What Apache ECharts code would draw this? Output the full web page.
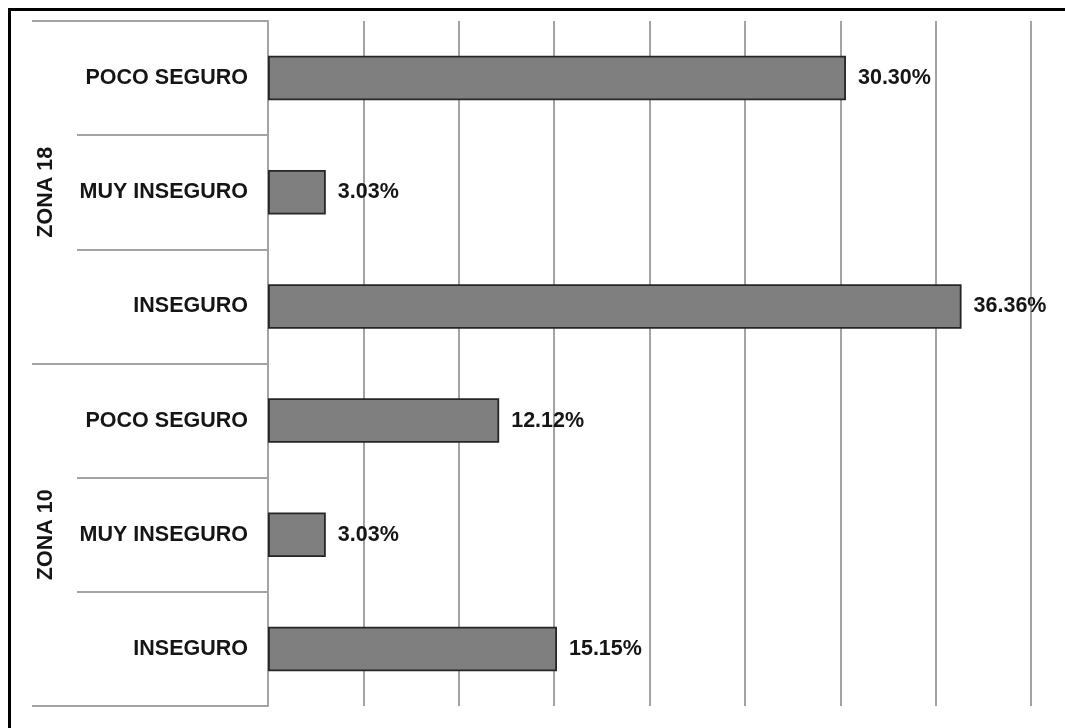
<!DOCTYPE html>
<html>
<head>
<meta charset="utf-8">
<script src="https://cdn.jsdelivr.net/npm/echarts@6/dist/echarts.min.js"></script>
<style>
html,body{margin:0;padding:0;background:#fff;}
#chart{width:1065px;height:728px;}
</style>
</head>
<body>
<div id="chart"></div>
<script>
// Data (top to bottom)
var zones = ['ZONA 18', 'ZONA 10'];
var levels = ['POCO SEGURO', 'MUY INSEGURO', 'INSEGURO'];
var zone18Values = [30.30, 3.03, 36.36];
var zone10Values = [12.12, 3.03, 15.15];
var xTicks = [0, 5, 10, 15, 20, 25, 30, 35, 40];

var categories = [];
var values = [];
zones.forEach(function (z, zi) {
  var vals = zi === 0 ? zone18Values : zone10Values;
  levels.forEach(function (l, li) {
    categories.push(z + '|' + l);
    values.push(vals[li]);
  });
});

var FONT = 'Liberation Sans, Arial, sans-serif';
var LINE = '#a3a3a3';
var FS = 21.5;

var chart = echarts.init(document.getElementById('chart'));
var gridTop = 21, gridBottom = 22;
var option = {
  animation: false,
  backgroundColor: '#fff',
  grid: [
    {left: 268, right: 34, top: gridTop, bottom: gridBottom, containLabel: false},
    {left: 77, right: 1065 - 268, top: gridTop, bottom: gridBottom},
    {left: 32, right: 1065 - 268, top: gridTop, bottom: gridBottom}
  ],
  xAxis: [
    {
      gridIndex: 0, type: 'value', min: xTicks[0], max: xTicks[xTicks.length - 1], interval: 5,
      axisLine: {show: false}, axisTick: {show: false}, axisLabel: {show: false},
      splitLine: {show: true, lineStyle: {color: LINE, width: 2}}
    },
    {gridIndex: 1, type: 'value', show: false},
    {gridIndex: 2, type: 'value', show: false}
  ],
  yAxis: [
    {
      gridIndex: 0, type: 'category', data: categories, inverse: true,
      axisLine: {show: true, lineStyle: {color: LINE, width: 2}},
      axisTick: {show: false},
      splitLine: {show: false},
      axisLabel: {
        margin: 20, color: '#151515', fontSize: FS, fontWeight: 'bold', fontFamily: FONT,
        formatter: function (v) { return v.split('|')[1]; }
      }
    },
    {
      gridIndex: 1, type: 'category', data: categories, inverse: true,
      axisLine: {show: false}, axisTick: {show: false}, axisLabel: {show: false},
      splitLine: {show: true, lineStyle: {color: LINE, width: 2}}
    },
    {
      gridIndex: 2, type: 'category', data: zones, inverse: true,
      axisLine: {show: false}, axisTick: {show: false}, axisLabel: {show: false},
      splitLine: {show: true, lineStyle: {color: LINE, width: 2}}
    }
  ],
  series: [{
    type: 'bar',
    xAxisIndex: 0, yAxisIndex: 0,
    data: values,
    barWidth: '39%',
    itemStyle: {color: '#7f7f7f', borderColor: '#262626', borderWidth: 1.8},
    label: {
      show: true, position: 'right', distance: 12,
      color: '#151515', fontSize: FS, fontWeight: 'bold', fontFamily: FONT,
      formatter: function (p) { return p.value.toFixed(2) + '%'; }
    }
  }]
};
chart.setOption(option);

// zone labels and outer frame
var graphics = [{
  type: 'rect', silent: true, z: 100,
  shape: {x: 9.5, y: 9.5, width: 1200, height: 900},
  style: {fill: 'none', stroke: '#000', lineWidth: 3}
}];
zones.forEach(function (z, zi) {
  var firstY = chart.convertToPixel({yAxisIndex: 0}, categories[zi * 3]);
  var lastY = chart.convertToPixel({yAxisIndex: 0}, categories[zi * 3 + 2]);
  var cy = (firstY + lastY) / 2;
  graphics.push({
    type: 'text', silent: true, z: 100,
    x: 46, y: cy, rotation: Math.PI / 2,
    style: {
      text: z, fill: '#151515', font: 'bold ' + FS + 'px ' + FONT,
      textAlign: 'center', textVerticalAlign: 'middle'
    }
  });
});
chart.setOption({graphic: graphics});
</script>
</body>
</html>
